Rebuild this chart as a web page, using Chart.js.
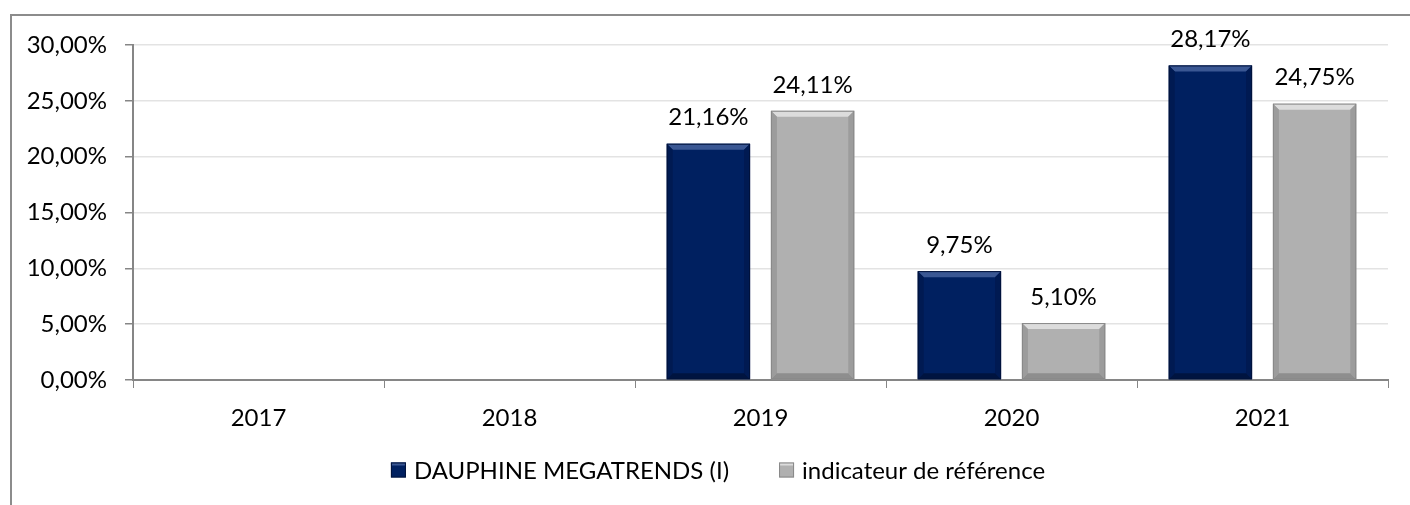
<!DOCTYPE html>
<html>
<head>
<meta charset="utf-8">
<script src="https://cdn.jsdelivr.net/npm/chart.js@4.4.1/dist/chart.umd.min.js"></script>
<style>
  html, body { margin: 0; padding: 0; background: #fff; }
  #wrap { position: relative; width: 1410px; height: 505px; overflow: hidden; }
  #frame { position: absolute; left: 10px; top: 14px; width: 1500px; height: 600px;
           border-top: 2px solid #8c8c8c; border-left: 2px solid #8c8c8c; }
  canvas { position: absolute; left: 0; top: 0; }
</style>
</head>
<body>
<div id="wrap">
  <div id="frame"></div>
  <canvas id="perfChart" width="1410" height="505"></canvas>
</div>
<script>
// Data
const years = ['2017', '2018', '2019', '2020', '2021'];
const fundValues = [null, null, 21.16, 9.75, 28.17];
const benchValues = [null, null, 24.11, 5.10, 24.75];
const seriesNames = ['DAUPHINE MEGATRENDS (I)', 'indicateur de référence'];

const FONT = 'Lato, "Open Sans", sans-serif';
const fmt = v => v.toFixed(2).replace('.', ',') + '%';

const shades = [
  { top: '#3a5793', side: '#001a52', bottom: '#001440', edge: '#00123a' },
  { top: '#dcdcdc', side: '#9c9c9c', bottom: '#8e8e8e', edge: '#888888' }
];

// bevel look drawn over each bar element
const bevel = {
  id: 'bevel',
  afterDatasetsDraw(chart) {
    const ctx = chart.ctx;
    chart.data.datasets.forEach((ds, i) => {
      const s = shades[i];
      chart.getDatasetMeta(i).data.forEach((bar, j) => {
        if (ds.data[j] == null) return;
        const l = bar.x - bar.width / 2, r = bar.x + bar.width / 2;
        const t = bar.y, b = bar.base, d = 6;
        ctx.save();
        ctx.fillStyle = s.top;
        ctx.beginPath(); ctx.moveTo(l, t); ctx.lineTo(r, t); ctx.lineTo(r - d, t + d); ctx.lineTo(l + d, t + d); ctx.fill();
        ctx.fillStyle = s.side;
        ctx.beginPath(); ctx.moveTo(l, t); ctx.lineTo(l + d, t + d); ctx.lineTo(l + d, b - d); ctx.lineTo(l, b); ctx.fill();
        ctx.beginPath(); ctx.moveTo(r, t); ctx.lineTo(r - d, t + d); ctx.lineTo(r - d, b - d); ctx.lineTo(r, b); ctx.fill();
        ctx.fillStyle = s.bottom;
        ctx.beginPath(); ctx.moveTo(l, b); ctx.lineTo(r, b); ctx.lineTo(r - d, b - d); ctx.lineTo(l + d, b - d); ctx.fill();
        ctx.strokeStyle = s.edge; ctx.lineWidth = 1;
        ctx.strokeRect(l + 0.5, t + 0.5, bar.width - 1, b - t - 1);
        ctx.restore();
      });
    });
  }
};

// value labels above bars
const valueLabels = {
  id: 'valueLabels',
  afterDatasetsDraw(chart) {
    const ctx = chart.ctx;
    ctx.save();
    ctx.font = '24px ' + FONT;
    ctx.fillStyle = '#000';
    ctx.textAlign = 'center';
    ctx.textBaseline = 'middle';
    chart.data.datasets.forEach((ds, i) => {
      chart.getDatasetMeta(i).data.forEach((bar, j) => {
        if (ds.data[j] == null) return;
        ctx.fillText(fmt(ds.data[j]), bar.x, bar.y - 26);
      });
    });
    ctx.restore();
  }
};

// legend drawn by hand, Excel style (small box close to the text)
const bottomLegend = {
  id: 'bottomLegend',
  afterDraw(chart) {
    const ctx = chart.ctx;
    const box = 15, gap = 8, spacing = 50, y = 471;
    ctx.save();
    ctx.font = '24px ' + FONT;
    ctx.textBaseline = 'middle';
    const items = chart.data.datasets.map((ds, i) => ({
      text: ds.label, color: ds.backgroundColor, s: shades[i],
      w: ctx.measureText(ds.label).width
    }));
    const total = items.reduce((a, it) => a + box + gap + it.w, 0) + spacing * (items.length - 1);
    let x = chart.width / 2 + 13 - total / 2;
    items.forEach(it => {
      const by = y - 1 - box / 2;
      ctx.fillStyle = it.color;
      ctx.fillRect(x, by, box, box);
      ctx.fillStyle = it.s.top;
      ctx.fillRect(x, by, box, 3);
      ctx.strokeStyle = it.s.edge;
      ctx.lineWidth = 1;
      ctx.strokeRect(x + 0.5, by + 0.5, box - 1, box - 1);
      ctx.fillStyle = '#000';
      ctx.fillText(it.text, x + box + gap, y);
      x += box + gap + it.w + spacing;
    });
    ctx.restore();
  }
};

new Chart(document.getElementById('perfChart'), {
  type: 'bar',
  data: {
    labels: years,
    datasets: [
      { label: seriesNames[0], data: fundValues, backgroundColor: '#002060' },
      { label: seriesNames[1], data: benchValues, backgroundColor: '#b0b0b0' }
    ]
  },
  options: {
    responsive: false,
    animation: false,
    devicePixelRatio: 1,
    categoryPercentage: 0.83,
    barPercentage: 0.8,
    layout: { padding: { top: 45, right: 22, left: 0, bottom: 69 } },
    scales: {
      x: {
        grid: { offset: true, drawOnChartArea: false, tickLength: 8, color: '#868686' },
        border: { color: '#868686', width: 2 },
        ticks: { font: { family: FONT, size: 24 }, color: '#000', padding: 16 },
        afterFit: s => { s.height = 56; }
      },
      y: {
        min: 0, max: 30,
        grid: { color: '#e3e3e3', tickColor: '#868686', tickLength: 8, lineWidth: 1.5 },
        border: { color: '#868686', width: 2 },
        ticks: { stepSize: 5, font: { family: FONT, size: 24 }, color: '#000', padding: 18,
                 callback: v => fmt(v) },
        afterFit: s => { s.width = 133; }
      }
    },
    plugins: {
      legend: { display: false },
      tooltip: { enabled: false }
    }
  },
  plugins: [bevel, valueLabels, bottomLegend]
});
</script>
</body>
</html>
